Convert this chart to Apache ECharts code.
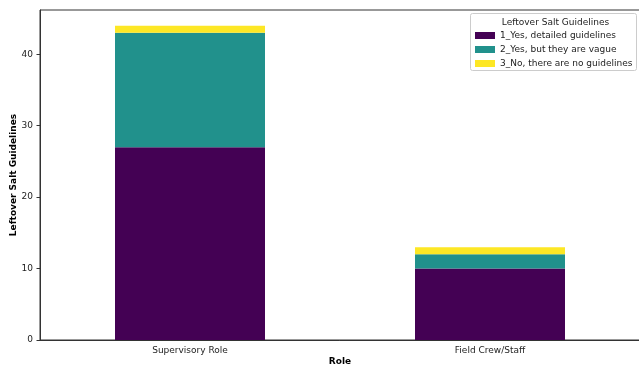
<!DOCTYPE html>
<html>
<head>
<meta charset="utf-8">
<script src="https://cdn.jsdelivr.net/npm/echarts@6/dist/echarts.min.js"></script>
<style>
  html, body { margin: 0; padding: 0; background: #fff; }
  #chart { width: 639px; height: 368px; }
</style>
</head>
<body>
<div id="chart"></div>
<script>
// Roles on the x axis
const roles = ['Supervisory Role', 'Field Crew/Staff'];
// Responses per guideline answer, stacked per role
const detailed = [27, 10];
const vague = [16, 2];
const noGuidelines = [1, 1];
const seriesNames = ['1_Yes, detailed guidelines', '2_Yes, but they are vague', '3_No, there are no guidelines'];
const seriesColors = ['#440154', '#21918c', '#fde725'];
const yTicks = [0, 10, 20, 30, 40];

const font = 'DejaVu Sans';
const chart = echarts.init(document.getElementById('chart'));

const values = [detailed, vague, noGuidelines];
chart.setOption({
  animation: false,
  textStyle: { fontFamily: font },
  grid: {
    left: 40, top: 10, width: 600, height: 330,
    outerBoundsMode: 'none',
    containLabel: false,
    show: true, borderColor: '#333', borderWidth: 1, backgroundColor: 'transparent'
  },
  xAxis: {
    type: 'category',
    data: roles,
    name: 'Role',
    nameLocation: 'middle',
    nameGap: 17,
    nameMoveOverlap: false,
    nameTextStyle: { fontFamily: font, fontWeight: 'bold', fontSize: 9, color: '#000' },
    axisLine: { lineStyle: { color: '#333', width: 1 } },
    axisTick: { alignWithLabel: true, length: 3.5, lineStyle: { color: '#333' } },
    axisLabel: { fontFamily: font, fontSize: 9, color: '#222', margin: 6 }
  },
  yAxis: {
    type: 'value',
    min: 0,
    max: 46.2,
    interval: 10,
    name: 'Leftover Salt Guidelines',
    nameLocation: 'middle',
    nameGap: 22,
    nameMoveOverlap: false,
    nameTextStyle: { fontFamily: font, fontWeight: 'bold', fontSize: 9, color: '#000' },
    axisLine: { show: true, lineStyle: { color: '#333', width: 1 } },
    axisTick: { show: true, length: 3.5, lineStyle: { color: '#333' } },
    axisLabel: {
      fontFamily: font, fontSize: 9, color: '#222', margin: 7,
      showMaxLabel: false,
      formatter: v => (yTicks.includes(v) ? String(v) : '')
    },
    splitLine: { show: false }
  },
  legend: {
    orient: 'vertical',
    left: 470,
    top: 25,
    itemWidth: 20,
    itemHeight: 7,
    itemGap: 3,
    icon: 'rect',
    textStyle: { fontFamily: font, fontSize: 9, color: '#222', lineHeight: 11 },
    data: seriesNames
  },
  graphic: [
    {
      type: 'rect',
      shape: { x: 470.5, y: 13.5, width: 166, height: 57, r: 2 },
      style: { fill: '#fff', stroke: '#ccc', lineWidth: 1 },
      z: 0
    },
    {
      type: 'text',
      style: {
        text: 'Leftover Salt Guidelines',
        x: 555.5, y: 22.5,
        align: 'center',
        verticalAlign: 'middle',
        font: '9px "DejaVu Sans"',
        fill: '#222'
      },
      z: 1
    }
  ],
  series: seriesNames.map((name, i) => ({
    name,
    type: 'bar',
    stack: 'total',
    barWidth: 150,
    data: values[i],
    itemStyle: { color: seriesColors[i] }
  }))
});
</script>
</body>
</html>
